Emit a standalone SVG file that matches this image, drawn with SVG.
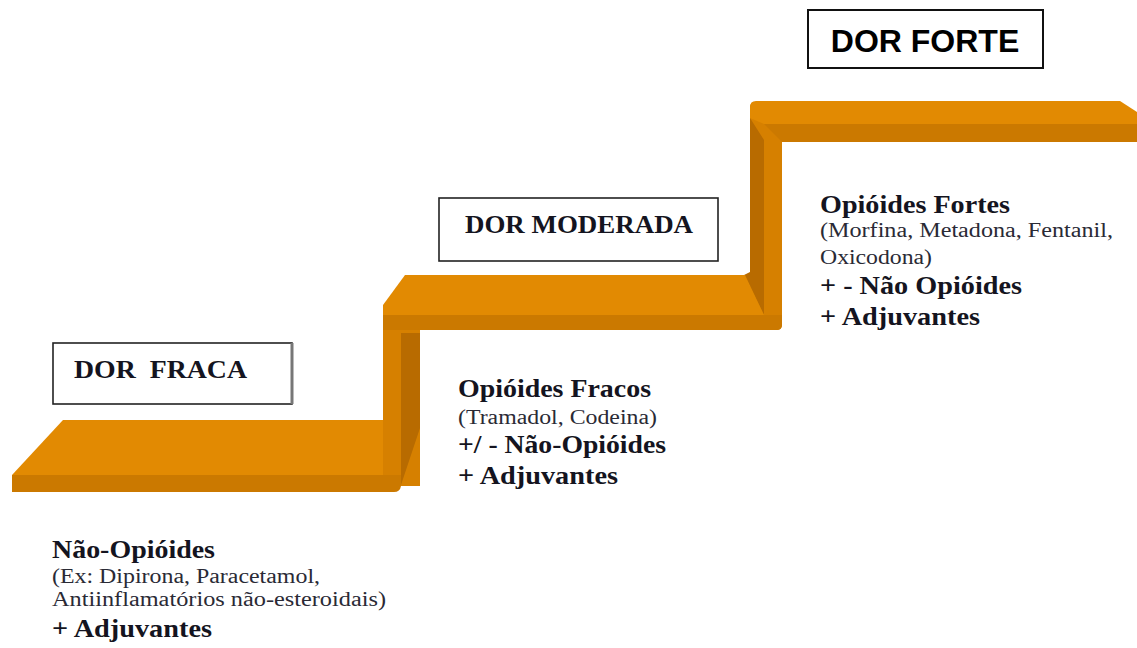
<svg xmlns="http://www.w3.org/2000/svg" width="1137" height="648" viewBox="0 0 1137 648">
<style>
.top{fill:#E28A02}
.front{fill:#CB7900}
.riser{fill:#D68000}
.dark{fill:#B86B00}
.box{fill:#fff;stroke:#222;stroke-width:1.6}
.hd{font-weight:bold;fill:#141420}
.tb{font-weight:bold;font-size:25px;fill:#141420}
.tr{font-size:20px;fill:#2a2a35}
</style>
<rect width="1137" height="648" fill="#fff"/>
<g id="stairs">
  <rect class="riser" x="750" y="102" width="32" height="228" rx="5"/>
  <polygon class="dark" points="750,118 764,140 764,315 744,275 750,272"/>
  <path class="top" d="M756,101 L1120,101 L1137,112 L1137,124 L764,124 L750,118 L750,107 Q750,101 756,101 Z"/>
  <polygon class="front" points="764,124 1137,124 1137,142 782,142 764,124"/>
  <rect class="riser" x="383" y="316" width="37" height="170"/>
  <polygon class="dark" points="401,333 420,333 420,428 401,485"/>
  <path class="top" d="M405,275 L745,275 L764,315 L383,315 L383,305 Z"/>
  <path class="front" d="M383,315 L782,315 L782,325 Q782,330 777,330 L401,330 L383,330 Z"/>
  <rect class="riser" x="383" y="330" width="18" height="146"/>
  <polygon class="top" points="63,420 383,420 383,475 12,475"/>
  <path class="front" d="M12,475 L401,475 L401,486 Q400,492 394,492 L12,492 Z"/>
</g>
<g id="dor-forte">
  <rect x="808" y="10" width="235" height="58" fill="#fff" stroke="#111" stroke-width="2"/>
  <text x="925" y="52" text-anchor="middle" font-family="Liberation Sans, Arial, sans-serif" font-weight="bold" font-size="32" fill="#000">DOR FORTE</text>
</g>
<g id="dor-moderada" font-family="Liberation Serif, Times New Roman, serif">
  <rect class="box" x="439" y="198" width="279" height="63"/>
  <text class="hd" x="465" y="233" font-size="26" textLength="228" lengthAdjust="spacingAndGlyphs">DOR MODERADA</text>
</g>
<g id="dor-fraca" font-family="Liberation Serif, Times New Roman, serif">
  <rect class="box" x="53" y="343" width="239" height="61"/>
  <line x1="292" y1="343" x2="292" y2="404" stroke="#777" stroke-width="3"/>
  <text class="hd" x="74" y="378" font-size="26" textLength="173" lengthAdjust="spacingAndGlyphs" style="white-space:pre">DOR  FRACA</text>
</g>
<g id="degrau1" font-family="Liberation Serif, Times New Roman, serif">
  <text class="tb" x="52" y="558" textLength="163" lengthAdjust="spacingAndGlyphs">Não-Opióides</text>
  <text class="tr" x="52" y="583" textLength="268" lengthAdjust="spacingAndGlyphs">(Ex: Dipirona, Paracetamol,</text>
  <text class="tr" x="52" y="606" textLength="334" lengthAdjust="spacingAndGlyphs">Antiinflamatórios não-esteroidais)</text>
  <text class="tb" x="52" y="637" textLength="160" lengthAdjust="spacingAndGlyphs">+ Adjuvantes</text>
</g>
<g id="degrau2" font-family="Liberation Serif, Times New Roman, serif">
  <text class="tb" x="458" y="397" textLength="193" lengthAdjust="spacingAndGlyphs">Opióides Fracos</text>
  <text class="tr" x="458" y="424" textLength="199" lengthAdjust="spacingAndGlyphs">(Tramadol, Codeina)</text>
  <text class="tb" x="458" y="453" textLength="208" lengthAdjust="spacingAndGlyphs">+/ - Não-Opióides</text>
  <text class="tb" x="458" y="484" textLength="160" lengthAdjust="spacingAndGlyphs">+ Adjuvantes</text>
</g>
<g id="degrau3" font-family="Liberation Serif, Times New Roman, serif">
  <text class="tb" x="820" y="213" textLength="190" lengthAdjust="spacingAndGlyphs">Opióides Fortes</text>
  <text class="tr" x="820" y="237" textLength="293" lengthAdjust="spacingAndGlyphs">(Morfina, Metadona, Fentanil,</text>
  <text class="tr" x="820" y="264" textLength="112" lengthAdjust="spacingAndGlyphs">Oxicodona)</text>
  <text class="tb" x="820" y="294" textLength="202" lengthAdjust="spacingAndGlyphs">+ - Não Opióides</text>
  <text class="tb" x="820" y="325" textLength="160" lengthAdjust="spacingAndGlyphs">+ Adjuvantes</text>
</g>
</svg>
